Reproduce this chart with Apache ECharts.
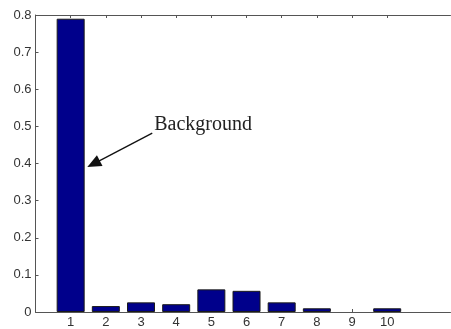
<!DOCTYPE html>
<html>
<head>
<meta charset="utf-8">
<script src="https://cdn.jsdelivr.net/npm/echarts@6/dist/echarts.min.js"></script>
<style>
  html, body { margin: 0; padding: 0; background: #fff; }
  #chart { width: 451px; height: 329px; }
</style>
</head>
<body>
<div id="chart"></div>
<script>
// bar positions and heights
const positions = [1, 2, 3, 4, 5, 6, 7, 8, 9, 10];
const values = [0.79, 0.016, 0.026, 0.021, 0.061, 0.057, 0.026, 0.010, 0, 0.010];
const yTicks = [0, 0.1, 0.2, 0.3, 0.4, 0.5, 0.6, 0.7, 0.8];
// annotation arrow, in data units: [from, to]
const arrowFrom = [3.32, 0.482];
const arrowTo = [1.65, 0.399];
const noteText = 'Background';

const chart = echarts.init(document.getElementById('chart'));

const axisColor = '#555';
const labelStyle = { color: '#333', fontFamily: 'Liberation Sans, Arial, sans-serif', fontSize: 13 };

chart.setOption({
  animation: false,
  grid: { left: 35.5, right: 0.5, top: 15, bottom: 17 },
  xAxis: [
    {
      type: 'value',
      min: 0,
      max: 11.8,
      axisLine: { lineStyle: { color: axisColor } },
      axisTick: { inside: true, length: 3, customValues: positions, lineStyle: { color: axisColor } },
      axisLabel: Object.assign({ customValues: positions, margin: 4 }, labelStyle),
      splitLine: { show: false }
    },
    {
      type: 'value',
      position: 'top',
      min: 0,
      max: 11.8,
      axisLine: { show: true, lineStyle: { color: axisColor } },
      axisTick: { inside: true, length: 3, customValues: positions, lineStyle: { color: axisColor } },
      axisLabel: { show: false },
      splitLine: { show: false }
    }
  ],
  yAxis: {
    type: 'value',
    min: 0,
    max: 0.8,
    axisLine: { show: true, lineStyle: { color: axisColor } },
    axisTick: { show: true, inside: true, length: 3, customValues: yTicks, lineStyle: { color: axisColor } },
    axisLabel: Object.assign({
      customValues: yTicks,
      margin: 4,
      formatter: v => (v === 0 ? '0' : (+v.toFixed(1)).toString())
    }, labelStyle),
    splitLine: { show: false }
  },
  series: [
    {
      type: 'bar',
      data: positions.map((p, i) => values[i] === 0
        ? { value: [p, values[i]], itemStyle: { borderWidth: 0, opacity: 0 } }
        : [p, values[i]]),
      barWidth: 28,
      itemStyle: { color: '#00008b', borderColor: '#1a1a1a', borderWidth: 1 },
      markLine: {
        silent: true,
        symbol: ['none', 'triangle'],
        symbolSize: [12, 14],
        label: { show: false },
        lineStyle: { color: '#111', width: 1.3, type: 'solid' },
        data: [[{ coord: arrowFrom }, { coord: arrowTo }]]
      },
      markPoint: {
        silent: true,
        symbol: 'circle',
        symbolSize: 0,
        label: {
          show: true,
          formatter: noteText,
          position: 'right',
          distance: 2,
          offset: [0, -8],
          color: '#222',
          fontFamily: 'Liberation Serif, Times New Roman, serif',
          fontSize: 20
        },
        data: [{ coord: arrowFrom }]
      }
    }
  ]
});
</script>
</body>
</html>
